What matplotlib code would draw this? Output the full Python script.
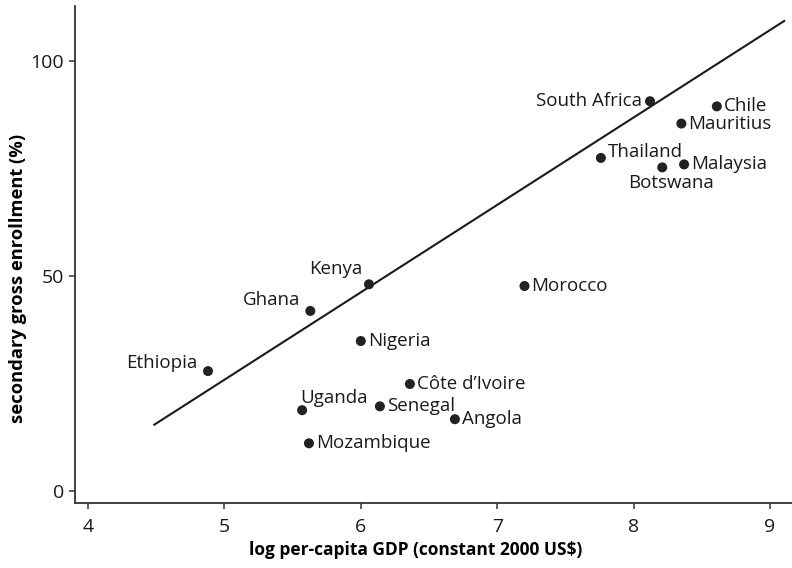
import matplotlib
matplotlib.use("Agg")
import matplotlib.pyplot as plt

plt.rcParams['font.family'] = ['Open Sans', 'DejaVu Sans']

countries = ["South Africa", "Chile", "Mauritius", "Thailand", "Botswana",
             "Malaysia", "Kenya", "Ghana", "Ethiopia", "Nigeria", "Morocco",
             "Côte d’Ivoire", "Uganda", "Senegal", "Angola", "Mozambique"]
log_gdp = [8.12, 8.61, 8.35, 7.76, 8.21, 8.37, 6.06, 5.63, 4.88, 6.00, 7.20,
           6.36, 5.57, 6.14, 6.69, 5.62]
enrollment = [90.7, 89.5, 85.5, 77.5, 75.3, 76.0, 48.1, 41.9, 27.9, 34.9, 47.7,
              24.9, 18.8, 19.7, 16.7, 11.1]

# fitted regression line endpoints
fit_x = [4.48, 9.11]
fit_y = [15.3, 109.5]

x_ticks = [4, 5, 6, 7, 8, 9]
y_ticks = [0, 50, 100]

# label placement: (dx, dy) in points, horizontal alignment, vertical alignment
label_pos = {
    "South Africa": ((-6, 0), "right", "center"),
    "Chile": ((5, 0), "left", "center"),
    "Mauritius": ((5, 0), "left", "center"),
    "Thailand": ((5, 4), "left", "center"),
    "Botswana": ((6, -11), "center", "center"),
    "Malaysia": ((5, 0), "left", "center"),
    "Kenya": ((-5, 11), "right", "center"),
    "Ghana": ((-7, 8), "right", "center"),
    "Ethiopia": ((-8, 6), "right", "center"),
    "Nigeria": ((5, 0), "left", "center"),
    "Morocco": ((5, 0), "left", "center"),
    "Côte d’Ivoire": ((5, 0), "left", "center"),
    "Uganda": ((-1, 9), "left", "center"),
    "Senegal": ((5, 0), "left", "center"),
    "Angola": ((5, 0), "left", "center"),
    "Mozambique": ((5, 0), "left", "center"),
}

fig = plt.figure(figsize=(7.92, 5.68), dpi=100)
ax = fig.add_axes([0.0947, 0.1144, 1.0 - 0.0947, 0.989 - 0.1144])

ax.plot(fit_x, fit_y, color="#1a1a1a", lw=1.5, solid_capstyle="butt")
ax.scatter(log_gdp, enrollment, s=52, color="#222222", zorder=3, edgecolors="none")

for name, xv, yv in zip(countries, log_gdp, enrollment):
    (dx, dy), ha, va = label_pos[name]
    ax.annotate(name, (xv, yv), xytext=(dx, dy), textcoords="offset points",
                ha=ha, va=va, fontsize=13.5, color="#1a1a1a")

ax.set_xlim(3.905, 9.161)
ax.set_ylim(-2.8, 112.8)
ax.set_xticks(x_ticks)
ax.set_yticks(y_ticks)

for side in ("top", "right"):
    ax.spines[side].set_visible(False)
for side in ("left", "bottom"):
    ax.spines[side].set_linewidth(1.3)
    ax.spines[side].set_color("#333333")

ax.tick_params(direction="out", length=4, width=1.1, color="#333333",
               labelsize=14, labelcolor="#1a1a1a")
ax.tick_params(axis="x", pad=7)
ax.tick_params(axis="y", pad=4)

ax.set_xlabel("log per-capita GDP (constant 2000 US$)", fontsize=12.5,
              fontweight="bold")
ax.set_ylabel("secondary gross enrollment (%)", fontsize=13.2,
              fontweight="bold")
ax.xaxis.set_label_coords(0.4756, -0.095)
ax.yaxis.set_label_coords(-0.0795, 0.4527)
ax.yaxis.label.set_va("center")
ax.xaxis.label.set_va("center")

fig.savefig("out.png", dpi=100)
